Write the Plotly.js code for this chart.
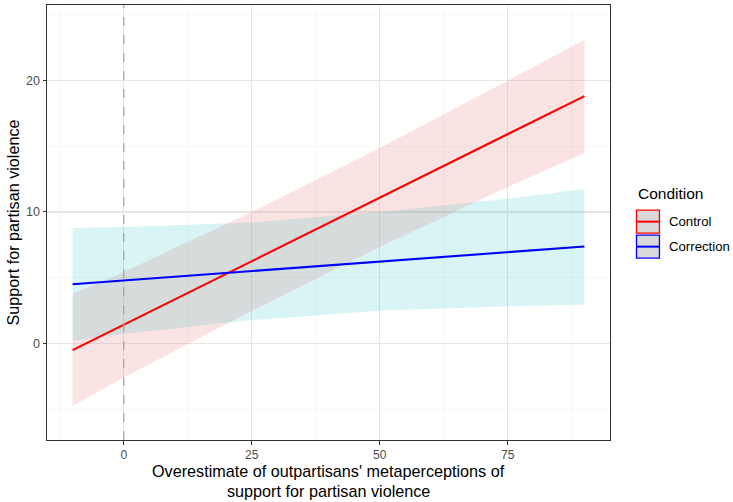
<!DOCTYPE html>
<html>
<head>
<meta charset="utf-8">
<script src="https://cdn.plot.ly/plotly-3.0.1.min.js"></script>
<style>html,body{margin:0;padding:0;background:#fff}</style>
</head>
<body>
<div id="chart" style="width:733px;height:502px"></div>
<script>
// x positions at which the fitted values were read
const xVals = [-10, 0, 25, 50, 75, 90];
// Control condition
const controlFit   = [-0.48, 1.45, 6.27, 11.08, 15.9, 18.79];
const controlUpper = [3.8, 5.45, 10.0, 14.85, 19.95, 23.06];
const controlLower = [-4.7, -2.55, 2.5, 7.35, 11.9, 14.47];
// Correction condition
const correctionFit   = [4.51, 4.80, 5.52, 6.24, 6.95, 7.38];
const correctionUpper = [8.79, 8.86, 9.2, 10.0, 11.0, 11.74];
const correctionLower = [0.23, 0.75, 1.8, 2.5, 2.85, 2.98];
const conditions = ["Control", "Correction"];
const xTickVals = [0, 25, 50, 75];
const yTickVals = [0, 10, 20];
const refX = 0;
const xTitleLines = ["Overestimate of outpartisans' metaperceptions of", "support for partisan violence"];
const yTitle = "Support for partisan violence";
const legendTitle = "Condition";

const lineColors = {Control: "#FF0000", Correction: "#0000FF"};
const fillColors = {Control: "rgba(240,115,115,0.2)", Correction: "rgba(0,180,180,0.15)"};

function ribbon(upper, lower, name) {
  return {
    x: xVals.concat(xVals.slice().reverse()),
    y: upper.concat(lower.slice().reverse()),
    type: "scatter", mode: "lines", fill: "toself",
    fillcolor: fillColors[name], line: {width: 0, color: "rgba(0,0,0,0)"},
    hoverinfo: "skip", showlegend: false
  };
}
function fitLine(y, name) {
  return {x: xVals, y: y, type: "scatter", mode: "lines", name: name,
    line: {color: lineColors[name], width: 2.1}, showlegend: false};
}

const data = [
  ribbon(controlUpper, controlLower, "Control"),
  ribbon(correctionUpper, correctionLower, "Correction"),
  fitLine(controlFit, "Control"),
  fitLine(correctionFit, "Correction")
];

const font = "Liberation Sans, Arial, sans-serif";
const plotTop = 4.7, plotH = 435.3, plotL = 46.5, plotW = 563.5;
const py = p => 1 - (p - plotTop) / plotH;
const px = p => (p - plotL) / plotW;

const shapes = [{type: "line", xref: "x", yref: "paper", x0: refX, x1: refX, y0: 0, y1: 1,
  line: {color: "#a8a8a8", width: 1.3, dash: "dash"}, layer: "above"}];
const annotations = [{xref: "paper", yref: "paper", x: px(636), y: py(193),
  xanchor: "left", yanchor: "middle",
  text: legendTitle, showarrow: false, font: {family: font, size: 15.5, color: "#000"}}];

xTitleLines.forEach((t, i) => {
  annotations.push({xref: "paper", yref: "paper", x: 0.5, y: py(471 + 20.5 * i), xanchor: "center", yanchor: "middle",
    text: t, showarrow: false, font: {family: font, size: 16.2, color: "#000"}});
});

// legend keys
const keyTop = [210, 235];
conditions.forEach((c, i) => {
  const y0 = py(keyTop[i]);
  const y1 = py(keyTop[i] + 23);
  const x0 = px(636.5), x1 = px(659.5);
  shapes.push({type: "rect", xref: "paper", yref: "paper", x0: x0, x1: x1, y0: y1, y1: y0,
    fillcolor: "#d9d9d9", line: {color: lineColors[c], width: 1.3}});
  shapes.push({type: "line", xref: "paper", yref: "paper", x0: x0, x1: x1, y0: (y0 + y1) / 2, y1: (y0 + y1) / 2,
    line: {color: lineColors[c], width: 2}});
  annotations.push({xref: "paper", yref: "paper", x: px(667), y: (y0 + y1) / 2, xanchor: "left",
    yanchor: "middle", text: c, showarrow: false, font: {family: font, size: 13.2, color: "#000"}});
});

const layout = {
  width: 733, height: 502,
  margin: {l: plotL, r: 733 - plotL - plotW, t: plotTop, b: 502 - plotTop - plotH},
  paper_bgcolor: "#fff", plot_bgcolor: "#fff",
  showlegend: false,
  font: {family: font},
  xaxis: {
    range: [-15, 95], tickvals: xTickVals, ticktext: xTickVals.map(String),
    showgrid: true, gridcolor: "#e6e6e6", gridwidth: 1.1,
    minor: {dtick: 12.5, tick0: 0, showgrid: true, gridcolor: "#f0f0f0", gridwidth: 0.6},
    zeroline: false, showline: true, mirror: true, linecolor: "#333", linewidth: 1,
    ticks: "outside", ticklen: 3.5, tickcolor: "#333", tickwidth: 1,
    tickfont: {family: font, size: 12, color: "#4d4d4d"}
  },
  yaxis: {
    range: [-7.3, 25.7], tickvals: yTickVals, ticktext: yTickVals.map(String),
    showgrid: true, gridcolor: "#e6e6e6", gridwidth: 1.1,
    minor: {dtick: 5, tick0: 0, showgrid: true, gridcolor: "#f0f0f0", gridwidth: 0.6},
    zeroline: false, showline: true, mirror: true, linecolor: "#333", linewidth: 1,
    ticks: "outside", ticklen: 3.5, tickcolor: "#333", tickwidth: 1,
    tickfont: {family: font, size: 12.5, color: "#4d4d4d"},
    title: {text: yTitle, font: {family: font, size: 16.2, color: "#000"}, standoff: 2}
  },
  shapes: shapes,
  annotations: annotations
};

Plotly.newPlot("chart", data, layout, {staticPlot: true, displayModeBar: false});
</script>
</body>
</html>
